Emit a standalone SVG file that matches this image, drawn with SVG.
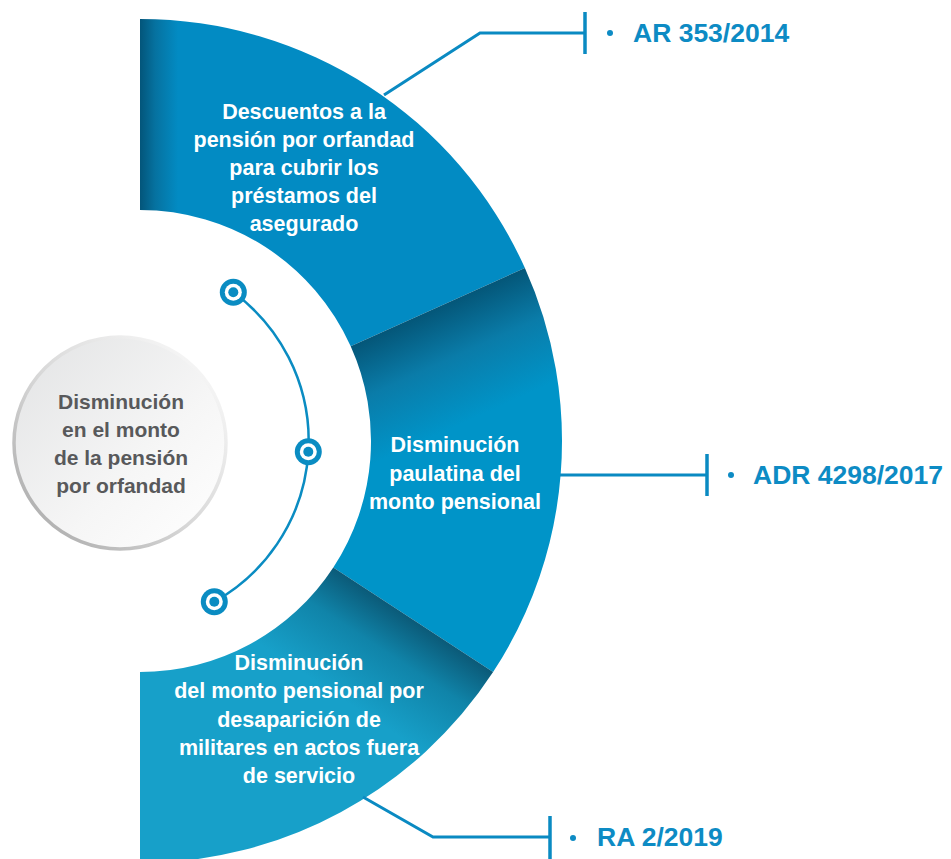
<svg xmlns="http://www.w3.org/2000/svg" width="951" height="859" viewBox="0 0 951 859">
  <defs>
    <linearGradient id="g1" gradientUnits="userSpaceOnUse" x1="140" y1="0" x2="178" y2="0">
      <stop offset="0" stop-color="#03557a"/>
      <stop offset="0.4" stop-color="#0672a0"/>
      <stop offset="1" stop-color="#028bc3"/>
    </linearGradient>
    <linearGradient id="g2" gradientUnits="userSpaceOnUse" x1="400" y1="324" x2="448" y2="430">
      <stop offset="0" stop-color="#045678"/>
      <stop offset="0.45" stop-color="#0a7ca9"/>
      <stop offset="1" stop-color="#0094c8"/>
    </linearGradient>
    <linearGradient id="g3" gradientUnits="userSpaceOnUse" x1="420" y1="624" x2="362" y2="712">
      <stop offset="0" stop-color="#0b5a78"/>
      <stop offset="0.4" stop-color="#1084a9"/>
      <stop offset="1" stop-color="#17a0c9"/>
    </linearGradient>
    <linearGradient id="cfill" x1="0" y1="0" x2="1" y2="1">
      <stop offset="0" stop-color="#e2e3e4"/>
      <stop offset="0.6" stop-color="#f6f6f6"/>
      <stop offset="1" stop-color="#ffffff"/>
    </linearGradient>
    <linearGradient id="crim" x1="0" y1="1" x2="1" y2="0">
      <stop offset="0" stop-color="#a3a3a3"/>
      <stop offset="0.45" stop-color="#d6d6d6"/>
      <stop offset="1" stop-color="#ffffff"/>
    </linearGradient>
    <g id="marker">
      <circle r="13.5" fill="#0a8cc2"/>
      <circle r="8.5" fill="#ffffff"/>
      <circle r="5" fill="#0a8cc2"/>
    </g>
  </defs>
  <style>
    .seg-text { font-family: "Liberation Sans", Arial, sans-serif; font-weight: bold; font-size: 21.5px; fill: #ffffff; text-anchor: middle; }
    .center-text { font-family: "Liberation Sans", Arial, sans-serif; font-weight: bold; font-size: 21px; fill: #58595b; text-anchor: middle; }
    .label-text { font-family: "Liberation Sans", Arial, sans-serif; font-weight: bold; font-size: 26.5px; fill: #0d8bc4; }
    .conn { fill: none; stroke: #0a8ac2; stroke-width: 3; }
    .tick { fill: none; stroke: #0a8ac2; stroke-width: 3.5; }
    .bullet { fill: #0d8bc4; }
  </style>

  <g id="segment-1">
    <path d="M140,19 A422,422 0 0 1 524.9,268 L350.7,346.3 A231,231 0 0 0 140,210 Z" fill="url(#g1)"/>
    <text class="seg-text" x="304" y="119">Descuentos a la</text>
    <text class="seg-text" x="304" y="147">pensión por orfandad</text>
    <text class="seg-text" x="304" y="175">para cubrir los</text>
    <text class="seg-text" x="304" y="203">préstamos del</text>
    <text class="seg-text" x="304" y="231">asegurado</text>
  </g>

  <g id="segment-2">
    <path d="M524.9,268 A422,422 0 0 1 493.1,672.1 L333.3,567.5 A231,231 0 0 0 350.7,346.3 Z" fill="url(#g2)"/>
    <text class="seg-text" x="455" y="452">Disminución</text>
    <text class="seg-text" x="455" y="481">paulatina del</text>
    <text class="seg-text" x="455" y="509">monto pensional</text>
  </g>

  <g id="segment-3">
    <path d="M493.1,672.1 A422,422 0 0 1 140,863 L140,672 A231,231 0 0 0 333.3,567.5 Z" fill="url(#g3)"/>
    <text class="seg-text" x="299" y="670">Disminución</text>
    <text class="seg-text" x="299" y="698">del monto pensional por</text>
    <text class="seg-text" x="299" y="727">desaparición de</text>
    <text class="seg-text" x="299" y="755">militares en actos fuera</text>
    <text class="seg-text" x="299" y="783">de servicio</text>
  </g>

  <g id="center-node">
    <circle cx="120" cy="443" r="106" fill="url(#cfill)" stroke="url(#crim)" stroke-width="3.5"/>
    <text class="center-text" x="121" y="409">Disminución</text>
    <text class="center-text" x="121" y="437">en el monto</text>
    <text class="center-text" x="121" y="465">de la pensión</text>
    <text class="center-text" x="121" y="493">por orfandad</text>
  </g>

  <g id="timeline">
    <path d="M233.3,292.3 A184.2,184.2 0 0 1 214.3,601.7" fill="none" stroke="#0a8cc2" stroke-width="2.5"/>
    <use href="#marker" x="233.3" y="292.3"/>
    <use href="#marker" x="308.3" y="451.7"/>
    <use href="#marker" x="214.3" y="601.7"/>
  </g>

  <g id="connectors">
    <polyline class="conn" points="384,95 480,33 585,33"/>
    <line class="tick" x1="585" y1="12" x2="585" y2="54"/>
    <line class="conn" x1="560" y1="475" x2="707" y2="475"/>
    <line class="tick" x1="707" y1="454" x2="707" y2="496"/>
    <polyline class="conn" points="363,797 433,837 550,837"/>
    <line class="tick" x1="550" y1="816" x2="550" y2="859"/>
  </g>

  <g id="label-1">
    <circle class="bullet" cx="610" cy="33" r="3"/>
    <text class="label-text" x="633" y="42">AR 353/2014</text>
  </g>
  <g id="label-2">
    <circle class="bullet" cx="731" cy="475" r="3"/>
    <text class="label-text" x="753" y="484">ADR 4298/2017</text>
  </g>
  <g id="label-3">
    <circle class="bullet" cx="573" cy="838" r="3"/>
    <text class="label-text" x="597" y="846">RA 2/2019</text>
  </g>
</svg>
